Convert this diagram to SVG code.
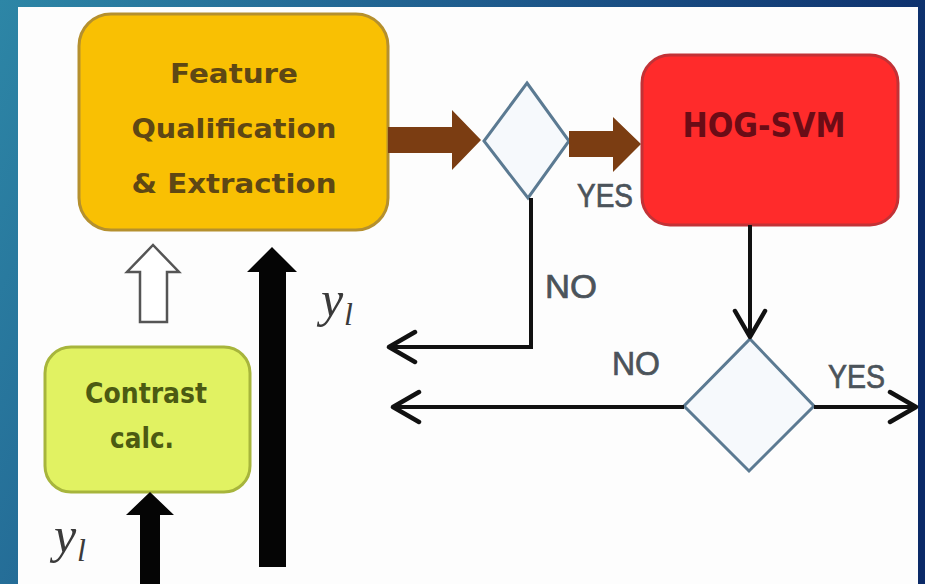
<svg xmlns="http://www.w3.org/2000/svg" width="925" height="584" viewBox="0 0 925 584">
<defs>
<linearGradient id="bg" x1="0" y1="0" x2="1" y2="0.3">
<stop offset="0" stop-color="#2d86a6"/>
<stop offset="0.5" stop-color="#1e5a8c"/>
<stop offset="1" stop-color="#0b2a68"/>
</linearGradient>
<marker id="open" viewBox="0 0 32 36" refX="29" refY="18" markerWidth="32" markerHeight="36" markerUnits="userSpaceOnUse" orient="auto">
<path d="M3,3 L29,18 L3,33" fill="none" stroke="#111" stroke-width="4.5" stroke-linecap="round" stroke-linejoin="round"/>
</marker>
<style>
.lbl{font-family:"Liberation Sans",Arial,sans-serif;font-size:33px;fill:#4b535a;stroke:#4b535a;stroke-width:0.7}
.conn{fill:none;stroke:#111;stroke-width:4}
.dia{fill:#f6f9fc;stroke:#5b7a92;stroke-width:3}
.brown{fill:#7b3d12}
.var{font-family:"Liberation Serif","Times New Roman",serif;font-style:italic;fill:#3a3a3a}
.box{font-family:"DejaVu Sans",Verdana,sans-serif;font-weight:bold;text-anchor:middle}
</style>
</defs>
<rect x="0" y="0" width="925" height="584" fill="url(#bg)"/>
<rect x="18" y="7" width="900" height="577" fill="#fdfdfd"/>

<g id="feature">
<rect x="79" y="14" width="309" height="216" rx="32" fill="#f9c003" stroke="#b5902e" stroke-width="3"/>
<g class="box" font-size="27" fill="#5e4714">
<text x="234" y="83" textLength="128" lengthAdjust="spacingAndGlyphs">Feature</text>
<text x="234" y="138" textLength="205" lengthAdjust="spacingAndGlyphs">Qualification</text>
<text x="234" y="193" textLength="205" lengthAdjust="spacingAndGlyphs">&amp; Extraction</text>
</g>
</g>

<g id="hogsvm">
<rect x="642" y="55" width="256" height="170" rx="28" fill="#ff2b2b" stroke="#c23236" stroke-width="3"/>
<text class="box" x="764" y="137" font-size="33" fill="#6a0c16" textLength="163" lengthAdjust="spacingAndGlyphs">HOG-SVM</text>
</g>

<g id="contrast">
<rect x="45" y="347" width="205" height="145" rx="26" fill="#e1f262" stroke="#a7b53c" stroke-width="3"/>
<g class="box" font-size="28" fill="#4c5a12">
<text x="146" y="403" textLength="122" lengthAdjust="spacingAndGlyphs">Contrast</text>
<text x="142" y="448" textLength="64" lengthAdjust="spacingAndGlyphs">calc.</text>
</g>
</g>

<g id="decision1">
<polygon class="dia" points="527,83 569,141 528,198 484,141"/>
</g>

<g id="decision2">
<polygon class="dia" points="750,339 814,406 749,471 684,406"/>
</g>

<g id="connectors">
<polygon class="brown" points="388,127 452,127 452,110 481,140 452,170 452,153 388,153"/>
<polygon class="brown" points="569,131 613,131 613,117 641,144 613,172 613,157 569,157"/>
<path class="conn" d="M531,198 V347 H389" marker-end="url(#open)"/>
<path class="conn" d="M750,225 V337" marker-end="url(#open)"/>
<path class="conn" d="M684,407 H393" marker-end="url(#open)"/>
<path class="conn" d="M814,407 H916" marker-end="url(#open)"/>
<polygon points="140,322 140,272 127,272 153,245 179,272 167,272 167,322" fill="#fff" stroke="#555" stroke-width="2.5" stroke-linejoin="miter"/>
<polygon points="259,567 259,272 247,272 272,247 297,272 286,272 286,567" fill="#050505"/>
<polygon points="140,584 140,515 126,515 150,492 174,515 160,515 160,584" fill="#050505"/>
</g>

<g id="labels">
<text class="lbl" x="577" y="207" textLength="56" lengthAdjust="spacingAndGlyphs">YES</text>
<text class="lbl" x="545" y="298" textLength="52" lengthAdjust="spacingAndGlyphs">NO</text>
<text class="lbl" x="612" y="375" textLength="48" lengthAdjust="spacingAndGlyphs">NO</text>
<text class="lbl" x="828" y="388" textLength="57" lengthAdjust="spacingAndGlyphs">YES</text>
<text class="var" x="321" y="316" font-size="50">y<tspan font-size="32" x="344" y="325">l</tspan></text>
<text class="var" x="54" y="552" font-size="50">y<tspan font-size="32" x="77" y="561">l</tspan></text>
</g>
</svg>
